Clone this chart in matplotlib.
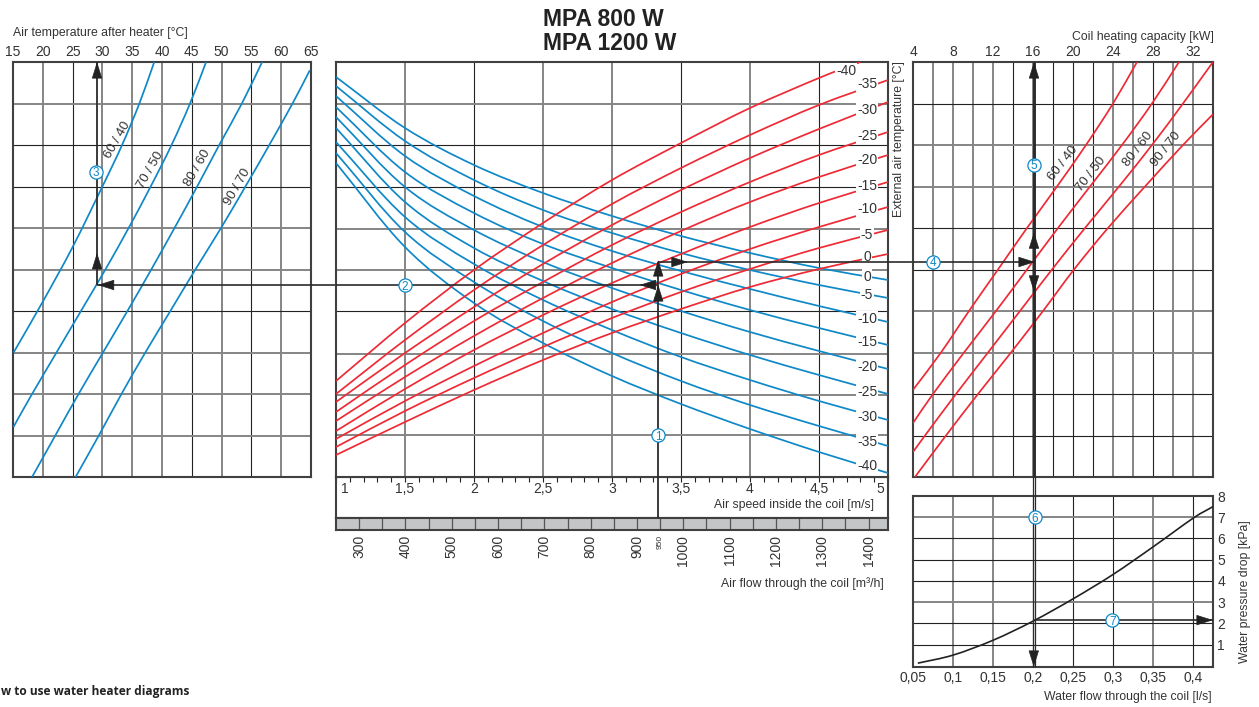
import numpy as np
import matplotlib
matplotlib.use('Agg')
import matplotlib.pyplot as plt
from matplotlib.path import Path
from matplotlib.patches import PathPatch

plt.rcParams['font.family'] = ['Liberation Sans', 'DejaVu Sans']

W, H = 1259, 707
BLUE = '#0f88c7'
RED = '#ee2a35'
TEXT = '#333333'

# left panel: air temperature after heater, y in grid rows (0 bottom, 10 top)
temp_ticks = [15, 20, 25, 30, 35, 40, 45, 50, 55, 60, 65]
t_6040 = [15.1, 19.9, 25, 30, 33.3, 36.2, 38.7]
r_6040 = [3, 4.2, 5.54, 7, 8, 9, 10]
t_7050 = [15.05, 18.2, 22.3, 26.4, 30.5, 34.4, 38.1, 41.6, 44.7, 47.4]
r_7050 = [1.2, 2, 3, 4, 5, 6, 7, 8, 9, 10]
t_8060 = [18.2, 22.1, 26, 30.1, 34.2, 38.2, 42.1, 45.9, 49.6, 53.4, 56.8]
r_8060 = [0, 1, 2, 3, 4, 5, 6, 7, 8, 9, 10]
t_9070 = [25.5, 29.4, 33.2, 37.2, 41.4, 45.6, 49.9, 54, 58, 61.9, 64.8]
r_9070 = [0, 1, 2, 3, 4, 5, 6, 7, 8, 9, 9.8]

# middle panel: air speed against a height scale (grid row = 41.5)
speed = [1, 1.5, 2, 2.5, 3, 3.5, 4, 4.5, 5]
speed_labels = ['1', '1,5', '2', '2,5', '3', '3,5', '4', '4,5', '5']
flow_ticks = [300, 400, 500, 600, 700, 800, 900, 1000, 1100, 1200, 1300, 1400]
blue_0 = [400, 349, 312, 284, 261, 241, 224, 209, 197]
blue_m5 = [391, 336, 297, 267, 244, 224, 207, 192, 179]
blue_m10 = [381, 321, 281, 250, 226, 206, 188, 171, 155]
blue_m15 = [370, 305, 264, 233, 209, 187, 167, 149, 132]
blue_m20 = [360, 290, 247, 215, 189, 166, 145, 126, 108]
blue_m25 = [349, 275, 229, 196, 168, 144, 122, 102, 83]
blue_m30 = [335, 260, 213, 177, 147, 120, 97, 76, 57]
blue_m35 = [324, 245, 195, 156, 124, 96, 72, 51, 31]
blue_m40 = [314, 230, 174, 134, 101, 73, 48, 25, 4]
red_m40 = [96, 154, 207, 254, 297, 334, 369, 399, 415]
red_m40_speed = [1, 1.5, 2, 2.5, 3, 3.5, 4, 4.5, 4.8]
red_m35 = [83, 137, 187, 232, 273, 309, 342, 372, 397]
red_m30 = [75, 124, 170, 213, 252, 287, 319, 348, 375]
red_m25 = [65, 112, 156, 195, 232, 265, 295, 322, 345]
red_m20 = [56, 100, 141, 179, 214, 246, 275, 300, 322]
red_m15 = [46, 88, 127, 162, 194, 223, 250, 274, 295]
red_m10 = [38, 76, 111, 144, 175, 203, 228, 250, 270]
red_m5 = [30, 66, 99, 130, 159, 185, 208, 229, 247]
red_0 = [22, 55, 87, 117, 144, 168, 190, 208, 223]
red_labels = ['-40', '-35', '-30', '-25', '-20', '-15', '-10', '-5', '0']
red_label_h = [406, 393, 367, 341, 317, 291, 268, 242, 220]
blue_labels = ['0', '-5', '-10', '-15', '-20', '-25', '-30', '-35', '-40']
blue_label_h = [200, 182, 158, 135, 110, 85, 60, 35, 11]

# right panel: coil heating capacity, y in grid rows
kw_ticks = [4, 8, 12, 16, 20, 24, 28, 32]
kw_6040 = [4, 6.8, 9.6, 12.5, 15.4, 18.4, 21.3, 24, 26.4]
kr_6040 = [2.1, 3, 4, 5, 6, 7, 8, 9, 10]
kw_7050 = [4, 6, 9.1, 12.3, 15.4, 18.5, 21.7, 24.9, 27.9, 30.6]
kr_7050 = [1.3, 2, 3, 4, 5, 6, 7, 8, 9, 10]
kw_8060 = [4, 5.2, 8.3, 11.5, 14.7, 17.9, 21.2, 24.6, 27.9, 31, 34]
kr_8060 = [0.6, 1, 2, 3, 4, 5, 6, 7, 8, 9, 10]
kw_9070 = [4.2, 7.3, 10.5, 13.8, 17, 20.1, 23.5, 27.2, 31, 34]
kr_9070 = [0, 1, 2, 3, 4, 5, 6, 7, 8, 8.74]

# bottom right panel: water pressure drop
water_ticks = [0.05, 0.1, 0.15, 0.2, 0.25, 0.3, 0.35, 0.4]
water_labels = ['0,05', '0,1', '0,15', '0,2', '0,25', '0,3', '0,35', '0,4']
water_flow = [0.056, 0.1, 0.15, 0.2, 0.25, 0.3, 0.35, 0.4, 0.425]
water_drop = [0.12, 0.5, 1.2, 2.1, 3.15, 4.3, 5.6, 6.95, 7.5]

# worked example
ex_speed = 3.335
ex_flow = 950
ex_temp = 29.1
ex_kw = 16.1
ex_water = 0.2
ex_drop = 2.15
ex_h_low = 192
ex_h_high = 215


def new_axes(left, right, top, bottom, **kw):
    return fig.add_axes([left / W, 1 - bottom / H, (right - left) / W, (bottom - top) / H], **kw)


def smooth(ax, xs, ys, color, lw=1.25, zorder=3):
    # catmull-rom through the read points, so the curves have no kinks
    p = np.column_stack([xs, ys]).astype(float)
    p = np.vstack([2 * p[0] - p[1], p, 2 * p[-1] - p[-2]])
    verts = [p[1]]
    codes = [Path.MOVETO]
    for i in range(1, len(p) - 2):
        verts += [p[i] + (p[i + 1] - p[i - 1]) / 6, p[i + 1] - (p[i + 2] - p[i]) / 6, p[i + 1]]
        codes += [Path.CURVE4] * 3
    ax.add_patch(PathPatch(Path(verts, codes), fc='none', ec=color, lw=lw, zorder=zorder, capstyle='butt'))


def grid(ax, xs, ys, thin_x, thin_y):
    for x in xs:
        thin = x in thin_x
        ax.axvline(x, color='#222222' if thin else '#858585', lw=0.8 if thin else 1.4, zorder=1)
    for y in ys:
        thin = y in thin_y
        ax.axhline(y, color='#222222' if thin else '#858585', lw=0.8 if thin else 1.4, zorder=1)


def frame(ax):
    for s in ax.spines.values():
        s.set_linewidth(1.5)
        s.set_color('#404040')


def head(ax, x, y, dx, dy):
    # arrow head with its tip at x, y and its base offset by dx, dy points
    ax.annotate('', xy=(x, y), xytext=(dx, dy), textcoords='offset points', annotation_clip=False, zorder=6,
                arrowprops=dict(arrowstyle='-|>,head_length=1.08,head_width=0.34', mutation_scale=10,
                                color='#222222', lw=0.5, shrinkA=0, shrinkB=0))


def step(ax, x, y, n):
    ax.plot([x], [y], 'o', ms=9.5, mfc='white', mec=BLUE, mew=0.9, zorder=7, clip_on=False)
    ax.text(x, y, str(n), color=BLUE, fontsize=8.5, ha='center', va='center_baseline', zorder=8)


def guide(ax, xs, ys, lw=1.2):
    ax.plot(xs, ys, color='#2b2b2b', lw=lw, zorder=5, clip_on=False, solid_capstyle='butt')


fig = plt.figure(figsize=(W / 100, H / 100), dpi=100)

fig.text(543 / W, 1 - 19 / H, 'MPA 800 W', fontsize=16.5, fontweight='bold', color='#222222', va='center')
fig.text(543 / W, 1 - 43 / H, 'MPA 1200 W', fontsize=16.5, fontweight='bold', color='#222222', va='center')

# air speed strip and air flow band under the middle panel
ax_strip = new_axes(336, 888, 477, 518, facecolor='white')
ax_strip.set_xlim(1, 5)
ax_strip.set_ylim(0, 1)
ax_strip.set_yticks([])
ax_strip.set_xticks(np.arange(1, 5.01, 0.1))
ax_strip.tick_params(axis='x', top=True, bottom=False, labelbottom=False, direction='in', length=3.5, width=0.8, color='#222222')
frame(ax_strip)
for s, lab in zip(speed, speed_labels):
    ha = 'left' if s == 1 else ('right' if s == 5 else 'center')
    ax_strip.text(s + (0.035 if s == 1 else (-0.03 if s == 5 else 0)), 0.7, lab, fontsize=10, color=TEXT, ha=ha, va='center')
ax_strip.text(0.975, 0.32, 'Air speed inside the coil [m/s]', transform=ax_strip.transAxes, fontsize=8.8, color=TEXT, ha='right', va='center')

ax_band = new_axes(336, 888, 518, 530, facecolor='#c4c5c7')
ax_band.set_xlim(250, 1442)
ax_band.set_ylim(0, 1)
ax_band.set_yticks([])
frame(ax_band)
for v in np.arange(300, 1442, 50):
    ax_band.axvline(v, color='#555555', lw=0.9)
ax_band.set_xticks(flow_ticks)
ax_band.set_xticklabels([str(v) for v in flow_ticks], rotation=90, fontsize=10, color=TEXT, va='top')
ax_band.tick_params(axis='x', length=0, pad=3.5)
ax_band.text(ex_flow, -0.4, str(ex_flow), rotation=90, fontsize=6, color=TEXT, ha='center', va='top')
fig.text(884 / W, 1 - 584 / H, 'Air flow through the coil [m³/h]', fontsize=8.8, color=TEXT, ha='right', va='center')

# left panel
ax_left = new_axes(13, 311, 62, 477)
ax_left.set_xlim(15, 65)
ax_left.set_ylim(0, 10)
frame(ax_left)
grid(ax_left, temp_ticks[1:-1], range(1, 10), [25, 45, 55], [4, 7, 8])
ax_left.set_yticks([])
ax_left.set_xticks(temp_ticks)
ax_left.tick_params(axis='x', top=True, bottom=False, labeltop=True, labelbottom=False, length=0, pad=2.5, labelsize=10, labelcolor=TEXT)
for ts, rs in [(t_6040, r_6040), (t_7050, r_7050), (t_8060, r_8060), (t_9070, r_9070)]:
    smooth(ax_left, ts, rs, BLUE)
for lab, t, r in [('60 / 40', 32.6, 8.12), ('70 / 50', 38, 7.4), ('80 / 60', 46, 7.45), ('90 / 70', 52.6, 6.99)]:
    ax_left.text(t, r, lab, rotation=60, fontsize=9.5, color=TEXT, ha='center', va='center', rotation_mode='anchor', zorder=4)
fig.text(13 / W, 1 - 33 / H, 'Air temperature after heater [°C]', fontsize=8.8, color=TEXT, va='center')
row_low = ex_h_low / 41.5
guide(ax_left, [ex_temp, ex_temp], [row_low, 10], lw=1.3)
guide(ax_left, [ex_temp, 69.2], [row_low, row_low])
head(ax_left, ex_temp, 10, 0, -11)
head(ax_left, ex_temp, 5.4, 0, -11)
head(ax_left, ex_temp + 0.1, row_low, 11, 0)
step(ax_left, 28.9, 7.35, 3)

# middle panel
ax_mid = new_axes(336, 888, 62, 477)
ax_mid.set_xlim(1, 5)
ax_mid.set_ylim(0, 415)
frame(ax_mid)
mid_rows = [42, 82, 123, 166, 207, 248, 290, 332, 373]
grid(ax_mid, speed[1:-1], mid_rows, [2, 3.5, 4.5], [166, 290, 332])
ax_mid.set_xticks([])
ax_mid.set_yticks([])
for c in [blue_0, blue_m5, blue_m10, blue_m15, blue_m20, blue_m25, blue_m30, blue_m35, blue_m40]:
    smooth(ax_mid, speed, c, BLUE)
smooth(ax_mid, red_m40_speed, red_m40, RED)
for c in [red_m35, red_m30, red_m25, red_m20, red_m15, red_m10, red_m5, red_0]:
    smooth(ax_mid, speed, c, RED)
for labs, hs in [(red_labels, red_label_h), (blue_labels, blue_label_h)]:
    for lab, h in zip(labs, hs):
        x = 4.696 if lab == '-40' and hs is red_label_h else 4.848
        ax_mid.text(x, h, lab, fontsize=10, color=TEXT, ha='center', va='center', zorder=4,
                    bbox=dict(fc='white', ec='none', pad=0.6))
guide(ax_mid, [ex_speed, ex_speed], [-41, ex_h_high], lw=1.3)
guide(ax_mid, [1, ex_speed], [ex_h_low, ex_h_low])
guide(ax_mid, [ex_speed, 5.181], [ex_h_high, ex_h_high])
head(ax_mid, ex_speed, ex_h_high + 2, 0, -11)
head(ax_mid, ex_speed, ex_h_low, 0, -11)
head(ax_mid, 3.2, ex_h_low, 11, 0)
head(ax_mid, 3.55, ex_h_high, -11, 0)
step(ax_mid, 1.5, ex_h_low, 2)
step(ax_mid, ex_speed, 42, 1)

# right panel
ax_right = new_axes(913, 1213, 62, 477)
ax_right.set_xlim(4, 34)
ax_right.set_ylim(0, 10)
frame(ax_right)
grid(ax_right, range(6, 34, 2), range(1, 10), [14, 18, 20, 22, 28], [1, 2, 5, 6, 9])
ax_right.set_yticks([])
ax_right.set_xticks(kw_ticks)
ax_right.tick_params(axis='x', top=True, bottom=False, labeltop=True, labelbottom=False, length=0, pad=2.5, labelsize=10, labelcolor=TEXT)
for ks, rs in [(kw_6040, kr_6040), (kw_7050, kr_7050), (kw_8060, kr_8060), (kw_9070, kr_9070)]:
    smooth(ax_right, ks, rs, RED)
for lab, k, r in [('60 / 40', 19, 7.57), ('70 / 50', 21.8, 7.3), ('80 / 60', 26.5, 7.9), ('90 / 70', 29.3, 7.9)]:
    ax_right.text(k, r, lab, rotation=52, fontsize=9.5, color=TEXT, ha='center', va='center', rotation_mode='anchor', zorder=4)
row_high = ex_h_high / 41.5
guide(ax_right, [ex_kw, ex_kw], [0, 10], lw=2.1)
guide(ax_right, [4, ex_kw], [row_high, row_high])
head(ax_right, ex_kw, 10, 0, -11)
head(ax_right, ex_kw, 5.9, 0, -12)
head(ax_right, ex_kw, 4.46, 0, 11)
head(ax_right, ex_kw + 0.1, row_high, -11, 0)
step(ax_right, 6, row_high, 4)
step(ax_right, ex_kw, 7.52, 5)
fig.text(1214 / W, 1 - 37 / H, 'Coil heating capacity [kW]', fontsize=8.8, color=TEXT, ha='right', va='center')
fig.text(899 / W, 1 - 139 / H, 'External air temperature [°C]', fontsize=8.8, color=TEXT, rotation=90, ha='center', va='center')

# bottom right panel
ax_bot = new_axes(913, 1213, 496, 667)
ax_bot.set_xlim(0.05, 0.425)
ax_bot.set_ylim(-0.06, 8)
frame(ax_bot)
grid(ax_bot, water_ticks[1:], range(1, 8), [0.2, 0.25, 0.3, 0.4], [1, 2, 4, 5, 6])
ax_bot.set_xticks(water_ticks)
ax_bot.set_xticklabels(water_labels)
ax_bot.set_yticks(range(1, 9))
ax_bot.yaxis.tick_right()
ax_bot.tick_params(axis='x', length=0, pad=3, labelsize=10, labelcolor=TEXT)
ax_bot.tick_params(axis='y', length=0, pad=3, labelsize=10, labelcolor=TEXT)
smooth(ax_bot, water_flow, water_drop, '#222222', lw=1.2)
guide(ax_bot, [ex_water, ex_water], [-0.06, 8.9], lw=0.9)
guide(ax_bot, [ex_water + 0.0025, ex_water + 0.0025], [-0.06, 8.9], lw=0.9)
guide(ax_bot, [ex_water, 0.425], [ex_drop, ex_drop])
head(ax_bot, ex_water + 0.001, -0.06, 0, 11)
head(ax_bot, 0.425, ex_drop, -11, 0)
step(ax_bot, ex_water + 0.0025, 7, 6)
step(ax_bot, 0.299, ex_drop, 7)
fig.text(1212 / W, 1 - 697 / H, 'Water flow through the coil [l/s]', fontsize=8.8, color=TEXT, ha='right', va='center')
fig.text(1245 / W, 1 - 592 / H, 'Water pressure drop [kPa]', fontsize=8.8, color=TEXT, rotation=90, ha='center', va='center')

# heading of the text block under the chart, as far as the page edge shows it
fig.text(1 / W, 1 - 691 / H, 'w to use water heater diagrams', family=['Open Sans', 'DejaVu Sans'],
         fontsize=8.6, fontweight='bold', color='#222222', ha='left', va='center')

fig.savefig('out.png', dpi=100)
